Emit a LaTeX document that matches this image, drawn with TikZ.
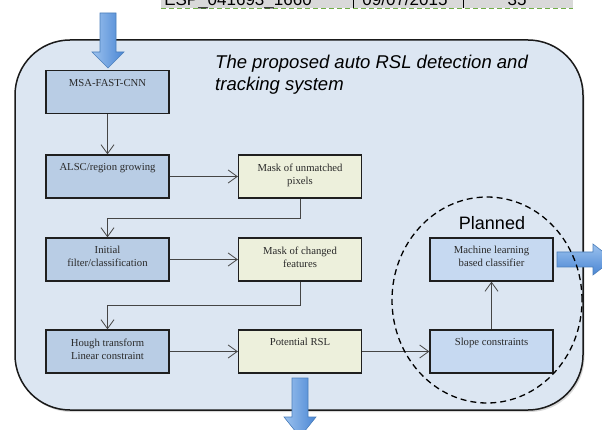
\documentclass[tikz,border=0pt]{standalone}
\usepackage{fontspec}
\setmainfont{Liberation Serif}
\newfontfamily\arialfont{Liberation Sans}
\usetikzlibrary{arrows.meta,shadows,shapes.geometric}
\definecolor{panelfill}{HTML}{DCE6F2}
\definecolor{panelline}{HTML}{1A1A1A}
\definecolor{leftfill}{HTML}{B9CDE5}
\definecolor{rightfill}{HTML}{C6D9F1}
\definecolor{yellowfill}{HTML}{EDF0DC}
\definecolor{boxline}{HTML}{1F1F1F}
\definecolor{connline}{HTML}{454545}
\definecolor{textgray}{HTML}{2A2A2A}
\definecolor{fatlight}{HTML}{9CC2EE}
\definecolor{fatdark}{HTML}{4A86D4}
\definecolor{fatline}{HTML}{4A7EBB}
\definecolor{tablegray}{HTML}{D9D9D9}
\definecolor{tablegreen}{HTML}{70AD47}
\tikzset{
  sysbox/.style={draw=panelline, fill=panelfill, line width=1.5pt, rounded corners=55pt,
    minimum width=568pt, minimum height=370pt, inner sep=0pt,
    drop shadow={shadow xshift=1.5pt, shadow yshift=-2pt, opacity=0.3}},
  stepbox/.style={draw=boxline, line width=1.3pt, minimum width=123pt, minimum height=43pt, inner sep=0pt},
  leftbox/.style={stepbox, fill=leftfill},
  rightbox/.style={stepbox, fill=rightfill},
  yellowbox/.style={stepbox, fill=yellowfill},
  boxtext/.style={anchor=north, inner sep=0pt, align=center, text=textgray,
    font=\fontsize{10.7}{13}\selectfont},
  conn/.style={draw=connline, line width=0.8pt, -{Straight Barb[length=9pt,width=13pt]}},
  fatarrow/.style={left color=fatlight, right color=fatdark, draw=fatline, line width=0.6pt},
  fatarrowh/.style={top color=fatlight, bottom color=fatdark, draw=fatline, line width=0.6pt},
  tabletext/.style={anchor=base, inner sep=0pt, font=\arialfont\fontsize{17}{20}\selectfont}
}
\begin{document}
\begin{tikzpicture}[x=1pt,y=-1pt]
\useasboundingbox (0,0) rectangle (602,430);
\fill[white] (0,0) rectangle (602,430);

% cut-off table row at the top
\fill[tablegray] (161,-5) rectangle (573,8);
\draw[black, line width=0.6pt] (353,-5) -- (353,8);
\draw[black, line width=0.6pt] (463,-5) -- (463,8);
\draw[tablegreen, line width=0.8pt, dash pattern=on 5pt off 3pt] (161,8.5) -- (573,8.5);
\node[tabletext] (tesp) at (238,6) {ESP\_041693\_1660};
\node[tabletext] (tdate) at (405,6) {09/07/2015};
\node[tabletext] (tnum) at (517,6) {35};

% system panel
\node[sysbox] (sys) at (299,225) {};

% title
\node[anchor=north west, inner sep=0pt, align=left,
      font=\arialfont\itshape\fontsize{18.5}{22}\selectfont] (title) at (215,54.5)
  {The proposed auto RSL detection and\\tracking system};

% boxes
\node[leftbox] (msa) at (107.5,92) {};
\node[leftbox] (alsc) at (107.5,176.5) {};
\node[yellowbox] (mask1) at (300,176.5) {};
\node[leftbox] (init) at (107.5,259.5) {};
\node[yellowbox] (mask2) at (300,259.5) {};
\node[leftbox] (hough) at (107.5,351.5) {};
\node[yellowbox] (pot) at (300,351.5) {};
\node[rightbox] (slope) at (491.5,351.5) {};
\node[rightbox] (ml) at (491.5,259.5) {};

% box texts
\node[boxtext] (msa-t) at ([yshift=-9pt]msa.north) {MSA-FAST-CNN};
\node[boxtext] (alsc-t) at ([yshift=-9pt]alsc.north) {ALSC/region growing};
\node[boxtext] (mask1-t) at ([yshift=-9pt]mask1.north) {Mask of unmatched\\pixels};
\node[boxtext] (init-t) at ([yshift=-9pt]init.north) {Initial\\filter/classification};
\node[boxtext] (mask2-t) at ([yshift=-9pt]mask2.north) {Mask of changed\\features};
\node[boxtext] (hough-t) at ([yshift=-9pt]hough.north) {Hough transform\\Linear constraint};
\node[boxtext] (pot-t) at ([yshift=-9pt]pot.north) {Potential RSL};
\node[boxtext] (slope-t) at ([yshift=-9pt]slope.north) {Slope constraints};
\node[boxtext] (ml-t) at ([yshift=-9pt]ml.north) {Machine learning\\based classifier};

% connectors
\draw[conn] (msa.south) -- (alsc.north);
\draw[conn] (alsc.east) -- (mask1.west);
\draw[conn] (mask1.south) -- (mask1.south |- 0,218) -| (init.north);
\draw[conn] (init.east) -- (mask2.west);
\draw[conn] (mask2.south) -- (mask2.south |- 0,305.5) -| (hough.north);
\draw[conn] (hough.east) -- (pot.west);
\draw[conn] (pot.east) -- (slope.west);
\draw[conn] (slope.north) -- (ml.south);

% fat arrows
\draw[fatarrow] (100,13) -- (116,13) -- (116,52) -- (124,52) -- (108,68) -- (92,52) -- (100,52) -- cycle;
\draw[fatarrow] (292,378) -- (308,378) -- (308,417) -- (316,417) -- (300,437) -- (284,417) -- (292,417) -- cycle;
\draw[fatarrowh] (557,252) -- (593,252) -- (593,244) -- (613,259.5) -- (593,275) -- (593,267) -- (557,267) -- cycle;

% planned region
\node[draw=black, line width=1.3pt, dash pattern=on 6pt off 4pt, ellipse, inner sep=0pt,
      minimum width=190pt, minimum height=206pt] (plannedzone) at (487,300) {};
\node[anchor=base, inner sep=0pt, font=\arialfont\fontsize{18}{20}\selectfont] (planned) at (492,230) {Planned};
\end{tikzpicture}
\end{document}
